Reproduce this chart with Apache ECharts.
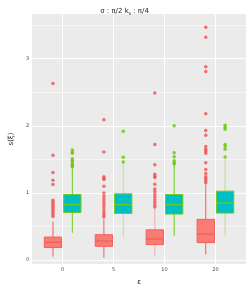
<!DOCTYPE html>
<html>
<head>
<meta charset="utf-8">
<script src="https://cdn.jsdelivr.net/npm/echarts@6/dist/echarts.min.js"></script>
<style>html,body{margin:0;padding:0;background:#fff}#c{width:249px;height:291px}</style>
</head>
<body>
<div id="c"></div>
<script>
// ---- data ----
const categories = ['0', '5', '10', '20'];
const yTicks = [0, 1, 2, 3];
const yMinorGrid = [0.5, 1.5, 2.5, 3.5];

const redMin    = [0.050, 0.034, 0.069, 0.083];
const redQ1     = [0.186, 0.205, 0.230, 0.260];
const redMedian = [0.264, 0.283, 0.313, 0.386];
const redQ3     = [0.342, 0.377, 0.450, 0.606];
const redMax    = [0.572, 0.610, 0.770, 1.120];
const redOutliers = [
  [2.63, 1.56, 1.305, 1.19, 1.125, 0.89, 0.86, 0.83, 0.80, 0.77, 0.74, 0.71, 0.68, 0.65],
  [2.09, 1.61, 1.24, 1.22, 1.20, 1.10, 1.00, 0.95, 0.91, 0.87, 0.83, 0.79, 0.75, 0.71, 0.67, 0.64],
  [2.49, 1.72, 1.42, 1.28, 1.25, 1.23, 1.13, 1.06, 1.02, 0.98, 0.94, 0.90, 0.86, 0.82, 0.79],
  [3.47, 3.32, 2.88, 2.81, 2.18, 1.93, 1.86, 1.69, 1.65, 1.62, 1.59, 1.45, 1.35, 1.29, 1.24, 1.21, 1.18, 1.15]
];

const tealMin    = [0.406, 0.342, 0.362, 0.362];
const tealQ1     = [0.708, 0.694, 0.685, 0.700];
const tealMedian = [0.826, 0.826, 0.826, 0.850];
const tealQ3     = [0.978, 0.987, 0.978, 1.026];
const tealMax    = [1.380, 1.440, 1.420, 1.510];
const tealOutliers = [
  [1.64, 1.61, 1.59, 1.51, 1.48, 1.46, 1.43, 1.41, 1.39],
  [1.92, 1.53, 1.46],
  [2.00, 1.60, 1.54, 1.48, 1.45, 1.43],
  [2.01, 1.98, 1.95, 1.72, 1.69, 1.65, 1.535]
];

// ---- styling / layout ----
const DODGE = 0.19;
const BOX_W = 0.34;
const redWhiskerOpacity = [1, 1, 0.45, 1];
const tealWhiskerOpacity = [1, 0.4, 1, 0.4];

function boxData(mins, q1s, meds, q3s, maxs, offset) {
  return categories.map((c, i) => [i + offset, mins[i], q1s[i], meds[i], q3s[i], maxs[i]]);
}
function outlierData(list, offset) {
  const out = [];
  list.forEach((vals, i) => vals.forEach(v => out.push([i + offset, v])));
  return out;
}
function boxRenderer(fill, stroke, whiskerOpacity) {
  return function (params, api) {
    const x = api.value(0);
    const lo = api.value(1), q1 = api.value(2), med = api.value(3), q3 = api.value(4), hi = api.value(5);
    const h = BOX_W / 2;
    const tl = api.coord([x - h, q3]);
    const br = api.coord([x + h, q1]);
    const mL = api.coord([x - h, med]);
    const mR = api.coord([x + h, med]);
    const pLo = api.coord([x, lo]);
    const pQ1 = api.coord([x, q1]);
    const pQ3 = api.coord([x, q3]);
    const pHi = api.coord([x, hi]);
    const op = whiskerOpacity[params.dataIndex];
    return {
      type: 'group',
      children: [
        { type: 'line', shape: { x1: pHi[0], y1: pHi[1], x2: pQ3[0], y2: pQ3[1] }, style: { stroke: stroke, lineWidth: 1, opacity: op } },
        { type: 'line', shape: { x1: pLo[0], y1: pLo[1], x2: pQ1[0], y2: pQ1[1] }, style: { stroke: stroke, lineWidth: 1, opacity: op } },
        { type: 'rect', shape: { x: tl[0], y: tl[1], width: br[0] - tl[0], height: br[1] - tl[1] }, style: { fill: fill, stroke: stroke, lineWidth: 1 } },
        { type: 'line', shape: { x1: mL[0], y1: mL[1], x2: mR[0], y2: mR[1] }, style: { stroke: stroke, lineWidth: 1.3 } }
      ]
    };
  };
}

const chart = echarts.init(document.getElementById('c'), null, { renderer: 'canvas' });

const gridLines = [];
yTicks.forEach(v => gridLines.push({ yAxis: v, lineStyle: { color: '#fff', width: 1, type: 'solid' } }));
yMinorGrid.forEach(v => gridLines.push({ yAxis: v, lineStyle: { color: '#fff', width: 0.5, type: 'solid' } }));
categories.forEach((c, i) => gridLines.push({ xAxis: i, lineStyle: { color: '#fff', width: 1, type: 'solid' } }));

chart.setOption({
  animation: false,
  backgroundColor: '#fff',
  title: {
    text: 'σ : π/2 k{s|s} : π/4',
    left: 'center',
    top: 2,
    textStyle: {
      fontFamily: 'DejaVu Sans',
      fontSize: 7,
      fontWeight: 'normal',
      color: '#1a1a1a',
      rich: { s: { fontSize: 4.5, fontFamily: 'DejaVu Sans', color: '#1a1a1a', padding: [4, 0, 0, 0] } }
    }
  },
  grid: {
    left: 17, right: 3, top: 14, bottom: 23,
    show: true, backgroundColor: '#EBEBEB', borderWidth: 0
  },
  xAxis: {
    type: 'value',
    min: -0.6, max: 3.6,
    name: 'ε',
    nameLocation: 'middle',
    nameGap: 15,
    nameTextStyle: { fontSize: 7, color: '#1a1a1a', fontFamily: 'DejaVu Sans' },
    axisLine: { show: false },
    splitLine: { show: false },
    axisTick: { show: true, customValues: [0, 1, 2, 3], length: 2, lineStyle: { color: '#333', width: 0.8 } },
    axisLabel: {
      customValues: [0, 1, 2, 3],
      formatter: v => categories[Math.round(v)],
      fontSize: 5, color: '#4D4D4D', margin: 3, fontFamily: 'DejaVu Sans'
    }
  },
  yAxis: {
    type: 'value',
    min: -0.059, max: 3.666,
    name: 's(ξ)',
    nameLocation: 'middle',
    nameRotate: 90,
    nameGap: 8,
    nameTextStyle: { fontSize: 7, color: '#1a1a1a', fontFamily: 'DejaVu Sans' },
    axisLine: { show: false },
    splitLine: { show: false },
    axisTick: { show: true, customValues: yTicks, length: 2, lineStyle: { color: '#333', width: 0.8 } },
    axisLabel: {
      customValues: yTicks,
      fontSize: 5, color: '#4D4D4D', margin: 3, fontFamily: 'DejaVu Sans'
    }
  },
  series: [
    {
      type: 'custom', z: 3,
      renderItem: boxRenderer('rgba(248,118,109,0.95)', '#F35E5E', redWhiskerOpacity),
      encode: { x: 0, y: [1, 2, 3, 4, 5] },
      data: boxData(redMin, redQ1, redMedian, redQ3, redMax, -DODGE),
      markLine: { silent: true, symbol: 'none', label: { show: false }, z: 1, animation: false, data: gridLines }
    },
    {
      type: 'custom', z: 3,
      renderItem: boxRenderer('#00BFC4', '#6CCB1C', tealWhiskerOpacity),
      encode: { x: 0, y: [1, 2, 3, 4, 5] },
      data: boxData(tealMin, tealQ1, tealMedian, tealQ3, tealMax, DODGE)
    },
    {
      type: 'scatter', z: 4, symbol: 'circle', symbolSize: 3.5,
      itemStyle: { color: '#F24D4F' },
      data: outlierData(redOutliers, -DODGE)
    },
    {
      type: 'scatter', z: 4, symbol: 'circle', symbolSize: 3.5,
      itemStyle: { color: '#66C800' },
      data: outlierData(tealOutliers, DODGE)
    }
  ]
});
</script>
</body>
</html>
